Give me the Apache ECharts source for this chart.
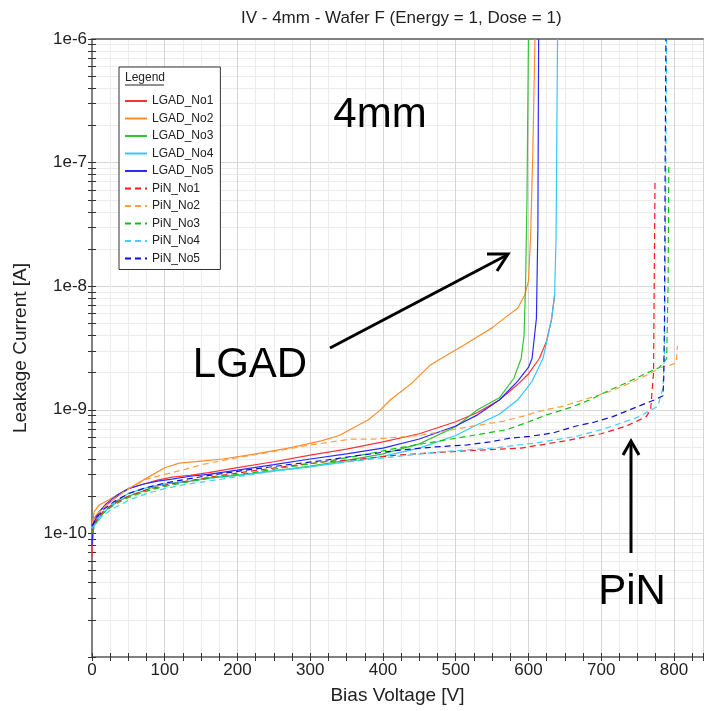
<!DOCTYPE html>
<html>
<head>
<meta charset="utf-8">
<script src="https://cdn.jsdelivr.net/npm/echarts@6/dist/echarts.min.js"></script>
<style>
  html, body { margin: 0; padding: 0; background: #fff; }
  #chart { width: 706px; height: 711px; }
</style>
</head>
<body>
<div id="chart"></div>
<script>
// bias voltage [V] / leakage current [A]
const lgad1V = [0, 2, 10, 20, 35, 50, 70, 90, 110, 135, 160, 200, 250, 300, 350, 400, 450, 500, 530, 560, 585, 600, 615, 625, 632, 636];
const lgad1I = [6.5e-11, 1.3e-10, 1.5e-10, 1.7e-10, 2.0e-10, 2.3e-10, 2.5e-10, 2.7e-10, 2.85e-10, 2.95e-10, 3.1e-10, 3.4e-10, 3.8e-10, 4.3e-10, 4.8e-10, 5.5e-10, 6.4e-10, 8.0e-10, 9.5e-10, 1.2e-9, 1.6e-9, 1.95e-9, 2.6e-9, 3.6e-9, 5.5e-9, 8.5e-9];

const lgad2V = [0, 3, 10, 25, 50, 75, 100, 120, 150, 180, 225, 270, 315, 340, 360, 380, 395, 410, 440, 465, 480, 510, 530, 550, 570, 585, 595, 600, 603, 606, 609];
const lgad2I = [1.1e-10, 1.5e-10, 1.7e-10, 1.9e-10, 2.3e-10, 2.8e-10, 3.4e-10, 3.7e-10, 3.85e-10, 4.0e-10, 4.4e-10, 4.9e-10, 5.6e-10, 6.2e-10, 7.2e-10, 8.3e-10, 9.8e-10, 1.2e-9, 1.65e-9, 2.3e-9, 2.6e-9, 3.3e-9, 3.9e-9, 4.6e-9, 5.7e-9, 6.6e-9, 8.5e-9, 1.1e-8, 2.5e-8, 1.2e-7, 1e-6];

const lgad3V = [0, 3, 10, 20, 35, 50, 70, 90, 110, 135, 160, 200, 250, 300, 350, 400, 450, 500, 530, 560, 580, 590, 594, 596, 598, 600];
const lgad3I = [1.0e-10, 1.15e-10, 1.35e-10, 1.55e-10, 1.8e-10, 2.0e-10, 2.2e-10, 2.45e-10, 2.55e-10, 2.65e-10, 2.8e-10, 2.95e-10, 3.2e-10, 3.5e-10, 3.9e-10, 4.4e-10, 5.3e-10, 7.3e-10, 1.0e-9, 1.25e-9, 1.8e-9, 2.6e-9, 4e-9, 1e-8, 5e-8, 1e-6];

const lgad4V = [0, 3, 10, 20, 35, 50, 70, 90, 110, 135, 160, 200, 250, 300, 350, 400, 450, 500, 530, 560, 585, 605, 620, 632, 636, 638, 640];
const lgad4I = [1.1e-10, 1.2e-10, 1.35e-10, 1.55e-10, 1.85e-10, 2.1e-10, 2.3e-10, 2.45e-10, 2.55e-10, 2.65e-10, 2.8e-10, 2.95e-10, 3.2e-10, 3.45e-10, 3.8e-10, 4.2e-10, 4.9e-10, 6.2e-10, 7.6e-10, 9.2e-10, 1.2e-9, 1.7e-9, 2.6e-9, 5.5e-9, 8.5e-9, 2.5e-8, 1e-6];

const lgad5V = [0, 2, 10, 20, 35, 50, 70, 90, 110, 135, 160, 200, 250, 300, 350, 400, 450, 500, 530, 560, 585, 600, 605, 611, 613, 614];
const lgad5I = [8e-11, 1.2e-10, 1.5e-10, 1.75e-10, 2.05e-10, 2.3e-10, 2.5e-10, 2.65e-10, 2.75e-10, 2.9e-10, 3.0e-10, 3.25e-10, 3.6e-10, 4.0e-10, 4.4e-10, 4.9e-10, 5.8e-10, 7.4e-10, 9.1e-10, 1.2e-9, 1.7e-9, 2.2e-9, 2.6e-9, 5.5e-9, 3e-8, 1e-6];

const pin1V = [0, 5, 15, 30, 50, 75, 100, 130, 170, 220, 270, 320, 370, 420, 470, 530, 590, 650, 700, 735, 762, 768, 772, 774];
const pin1I = [1.0e-10, 1.25e-10, 1.5e-10, 1.75e-10, 2.0e-10, 2.25e-10, 2.45e-10, 2.65e-10, 2.9e-10, 3.2e-10, 3.5e-10, 3.8e-10, 4.0e-10, 4.3e-10, 4.5e-10, 4.7e-10, 4.9e-10, 5.6e-10, 6.4e-10, 7.4e-10, 8.8e-10, 1.0e-9, 2e-9, 7e-8];

const pin2V = [0, 5, 15, 30, 50, 75, 100, 128, 151, 200, 260, 292, 356, 388, 420, 450, 490, 525, 566, 593, 620, 648, 675, 711, 735, 762, 782, 795, 803, 805];
const pin2I = [1.2e-10, 1.4e-10, 1.6e-10, 1.9e-10, 2.3e-10, 2.75e-10, 3.0e-10, 3.3e-10, 3.6e-10, 4.1e-10, 4.7e-10, 5.1e-10, 5.8e-10, 5.8e-10, 6.0e-10, 6.2e-10, 6.8e-10, 7.4e-10, 8.1e-10, 8.9e-10, 9.9e-10, 1.07e-9, 1.2e-9, 1.4e-9, 1.6e-9, 1.9e-9, 2.2e-9, 2.3e-9, 2.4e-9, 3.3e-9];

const pin3V = [0, 5, 15, 30, 50, 75, 100, 130, 170, 220, 270, 320, 370, 420, 470, 516, 570, 598, 625, 657, 684, 707, 739, 764, 780, 788, 790, 792, 793];
const pin3I = [1.0e-10, 1.2e-10, 1.45e-10, 1.7e-10, 1.95e-10, 2.2e-10, 2.4e-10, 2.6e-10, 2.85e-10, 3.1e-10, 3.45e-10, 3.8e-10, 4.3e-10, 4.9e-10, 5.5e-10, 6.1e-10, 6.9e-10, 7.9e-10, 9.1e-10, 1.04e-9, 1.2e-9, 1.4e-9, 1.7e-9, 2.0e-9, 2.2e-9, 2.5e-9, 2.6e-9, 1e-8, 9.5e-8];

const pin4V = [0, 5, 15, 30, 50, 75, 100, 130, 170, 220, 270, 320, 370, 420, 484, 552, 611, 666, 707, 730, 752, 778, 785, 787, 789, 790];
const pin4I = [1.1e-10, 1.2e-10, 1.4e-10, 1.6e-10, 1.85e-10, 2.1e-10, 2.3e-10, 2.5e-10, 2.7e-10, 3.0e-10, 3.3e-10, 3.6e-10, 3.9e-10, 4.2e-10, 4.6e-10, 4.9e-10, 5.4e-10, 6.1e-10, 7.1e-10, 7.9e-10, 8.8e-10, 1.07e-9, 1.5e-9, 3e-9, 1e-7, 1e-6];

const pin5V = [0, 5, 15, 30, 50, 75, 100, 130, 170, 220, 270, 320, 370, 420, 470, 516, 547, 575, 602, 634, 666, 689, 716, 748, 773, 785, 786, 787, 788, 789];
const pin5I = [1.15e-10, 1.3e-10, 1.55e-10, 1.8e-10, 2.1e-10, 2.35e-10, 2.55e-10, 2.75e-10, 3.0e-10, 3.3e-10, 3.6e-10, 3.9e-10, 4.3e-10, 4.7e-10, 5.0e-10, 5.2e-10, 5.5e-10, 5.9e-10, 6.1e-10, 6.5e-10, 7.4e-10, 7.9e-10, 8.8e-10, 1.05e-9, 1.2e-9, 1.3e-9, 1.8e-9, 5e-9, 1e-7, 1e-6];

const seriesNames = ["LGAD_No1", "LGAD_No2", "LGAD_No3", "LGAD_No4", "LGAD_No5", "PiN_No1", "PiN_No2", "PiN_No3", "PiN_No4", "PiN_No5"];
const seriesColors = ["#ff3333", "#ff8c2a", "#33c433", "#33c8ff", "#2a2aff", "#ff1a1a", "#ffa040", "#10c010", "#40d0ff", "#1010d0"];
const voltages = [lgad1V, lgad2V, lgad3V, lgad4V, lgad5V, pin1V, pin2V, pin3V, pin4V, pin5V];
const currents = [lgad1I, lgad2I, lgad3I, lgad4I, lgad5I, pin1I, pin2I, pin3I, pin4I, pin5I];

const decadeLabels = [1e-10, 1e-9, 1e-8, 1e-7, 1e-6];
const decades = [1e-11, 1e-10, 1e-9, 1e-8, 1e-7, 1e-6];
// 1..9 x 10^k tick positions
const minorTicks = [];
for (let k = -11; k <= -7; k++) {
  for (let m = 1; m <= 9; m++) minorTicks.push(Number(m + "e" + k));
}
minorTicks.push(1e-6);

const FONT = "Liberation Sans, Arial, sans-serif";
const chart = echarts.init(document.getElementById("chart"));

const series = seriesNames.map((name, idx) => ({
  name: name,
  type: "line",
  data: voltages[idx].map((v, k) => [v, currents[idx][k]]),
  symbol: "none",
  xAxisIndex: 0,
  yAxisIndex: 0,
  lineStyle: { color: seriesColors[idx], width: 1.2, type: idx < 5 ? "solid" : [6, 4] },
  itemStyle: { color: seriesColors[idx] },
}));

const logAxis = {
  type: "log",
  logBase: 10,
  min: 1e-11,
  max: 1e-6,
  position: "left",
};

const xBase = { type: "value", min: 0, max: 840, position: "bottom" };

const option = {
  animation: false,
  backgroundColor: "#fff",
  textStyle: { fontFamily: FONT },
  title: {
    text: "IV - 4mm - Wafer F (Energy = 1, Dose = 1)",
    left: 236,
    top: 5,
    textStyle: { fontFamily: FONT, fontSize: 17, fontWeight: "normal", color: "#222" },
  },
  grid: { left: 92, right: 0, top: 39, bottom: 54 },
  legend: {
    data: seriesNames,
    orient: "vertical",
    left: 119,
    top: 67,
    itemWidth: 22,
    itemHeight: 14,
    itemGap: 5.5,
    padding: [28, 7, 5, 5],
    backgroundColor: "#fff",
    borderColor: "#333",
    borderWidth: 1,
    itemStyle: { opacity: 0 },
    textStyle: { fontFamily: FONT, fontSize: 12, color: "#222" },
  },
  xAxis: [
    Object.assign({}, xBase, {
      interval: 25,
      name: "Bias Voltage [V]", nameLocation: "middle", nameGap: 29,
      nameTextStyle: { fontFamily: FONT, fontSize: 19, color: "#222" },
      axisLine: { show: true, lineStyle: { color: "#808080", width: 2 } },
      axisTick: { show: true, inside: false, length: 4, lineStyle: { color: "#333" } },
      axisLabel: {
        fontFamily: FONT, fontSize: 17, color: "#222", margin: 5,
        formatter: (v) => (v % 100 === 0 ? String(v) : ""),
      },
      splitLine: { show: true, lineStyle: { color: "#ececec", width: 1 } },
    }),
    Object.assign({}, xBase, {
      interval: 25,
      axisLine: { show: false },
      axisTick: { show: true, inside: true, length: 4, lineStyle: { color: "#333" } },
      axisLabel: { show: false },
      splitLine: { show: false },
    }),
    Object.assign({}, xBase, {
      interval: 100,
      axisLine: { show: false },
      axisTick: { show: false },
      axisLabel: { show: false },
      splitLine: { show: true, lineStyle: { color: "#d6d6d6", width: 1 } },
    }),
    Object.assign({}, xBase, {
      position: "top",
      axisLine: { show: true, lineStyle: { color: "#808080", width: 2 } },
      axisTick: { show: false },
      axisLabel: { show: false },
      splitLine: { show: false },
    }),
  ],
  yAxis: [
    Object.assign({}, logAxis, {
      name: "Leakage Current [A]", nameLocation: "middle", nameGap: 62,
      nameTextStyle: { fontFamily: FONT, fontSize: 19, color: "#222" },
      axisLine: { show: true, lineStyle: { color: "#808080", width: 2 } },
      axisTick: { show: true, inside: false, length: 4, customValues: minorTicks, lineStyle: { color: "#333" } },
      axisLabel: {
        fontFamily: FONT, fontSize: 17, color: "#222", margin: 5,
        customValues: decadeLabels,
        formatter: (v) => "1e" + Math.round(Math.log10(v)),
      },
      splitLine: { show: true, lineStyle: { color: "#ececec", width: 1 } },
    }),
    Object.assign({}, logAxis, {
      axisLine: { show: false },
      axisTick: { show: true, inside: true, length: 4, customValues: minorTicks, lineStyle: { color: "#333" } },
      axisLabel: { show: false },
      splitLine: { show: false },
    }),
    Object.assign({}, logAxis, {
      axisLine: { show: false },
      axisTick: { show: false, customValues: decades },
      axisLabel: { show: false },
      splitLine: { show: true, lineStyle: { color: "#d6d6d6", width: 1 } },
    }),
  ],
  series: series,
  graphic: [
    { type: "text", left: 125, top: 72, z: 100, style: { text: "Legend", font: "12px " + FONT, fill: "#222" } },
    { type: "line", z: 100, shape: { x1: 125, y1: 85, x2: 164, y2: 85 }, style: { stroke: "#222", lineWidth: 1 } },
    { type: "text", x: 380, y: 115, z: 100, style: { text: "4mm", font: "42px " + FONT, fill: "#000", textAlign: "center", textVerticalAlign: "middle" } },
    { type: "text", x: 250, y: 365, z: 100, style: { text: "LGAD", font: "42px " + FONT, fill: "#000", textAlign: "center", textVerticalAlign: "middle" } },
    { type: "text", x: 632, y: 592, z: 100, style: { text: "PiN", font: "42px " + FONT, fill: "#000", textAlign: "center", textVerticalAlign: "middle" } },
    { type: "line", z: 100, shape: { x1: 330, y1: 348, x2: 507, y2: 255 }, style: { stroke: "#000", lineWidth: 3 } },
    { type: "polyline", z: 100, shape: { points: [[487, 254], [508, 254], [497, 271]] }, style: { stroke: "#000", lineWidth: 3, fill: null } },
    { type: "line", z: 100, shape: { x1: 631, y1: 553, x2: 631, y2: 442 }, style: { stroke: "#000", lineWidth: 3 } },
    { type: "polyline", z: 100, shape: { points: [[623, 455], [631, 441], [639, 455]] }, style: { stroke: "#000", lineWidth: 3, fill: null } },
  ],
};

chart.setOption(option);
</script>
</body>
</html>
